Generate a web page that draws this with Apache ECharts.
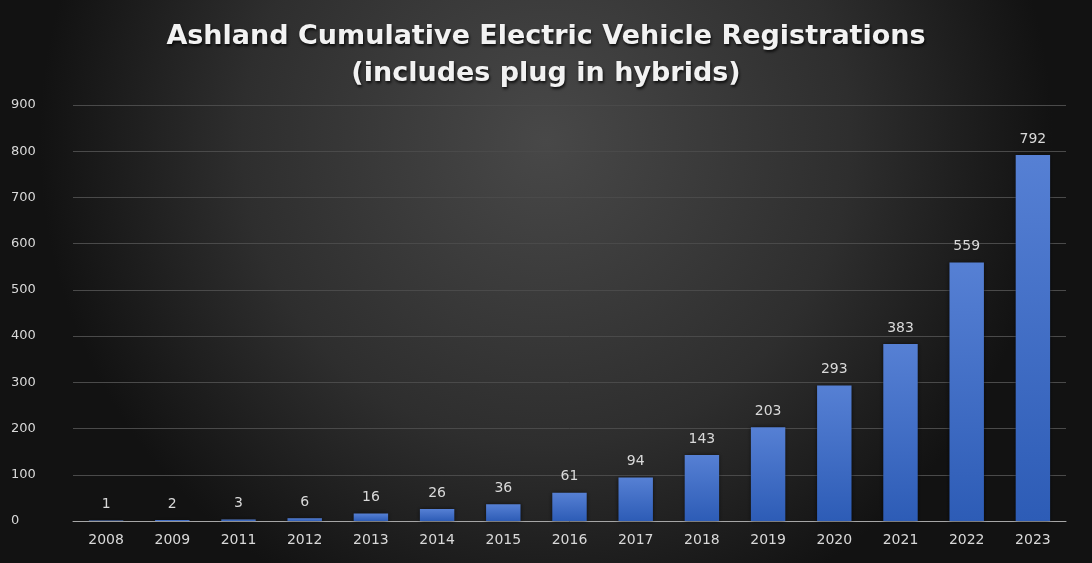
<!DOCTYPE html>
<html>
<head>
<meta charset="utf-8">
<script src="https://cdn.jsdelivr.net/npm/echarts@6/dist/echarts.min.js"></script>
<style>
  html, body { margin: 0; padding: 0; background: #1a1a1a; }
  #chart { width: 1092px; height: 563px; }
</style>
</head>
<body>
<div id="chart"></div>
<script>
// data
var years = ["2008","2009","2011","2012","2013","2014","2015","2016","2017","2018","2019","2020","2021","2022","2023"];
var registrations = [1, 2, 3, 6, 16, 26, 36, 61, 94, 143, 203, 293, 383, 559, 792];

var titleText = "Ashland Cumulative Electric Vehicle Registrations\n(includes plug in hybrids)";

var option = {
  backgroundColor: {
    type: "radial",
    x: 0.5, y: 0.25, r: 0.9,
    colorStops: [
      { offset: 0, color: "#484848" },
      { offset: 0.6, color: "#2e2e2e" },
      { offset: 1, color: "#121212" }
    ]
  },
  title: {
    text: titleText,
    left: "center",
    top: 13,
    textStyle: {
      color: "#f2f2f2",
      fontFamily: "DejaVu Sans",
      fontWeight: "bold",
      fontSize: 27,
      lineHeight: 37,
      textShadowColor: "rgba(0,0,0,0.8)",
      textShadowBlur: 3,
      textShadowOffsetX: 1,
      textShadowOffsetY: 2
    }
  },
  grid: {
    left: 73,
    right: 26,
    top: 105,
    bottom: 42
  },
  xAxis: {
    type: "category",
    data: years,
    axisLine: { lineStyle: { color: "#a6a6a6", width: 1 } },
    axisTick: { show: false },
    axisLabel: {
      color: "#d9d9d9",
      fontFamily: "DejaVu Sans",
      fontSize: 14,
      margin: 12
    }
  },
  yAxis: {
    type: "value",
    min: 0,
    max: 900,
    interval: 100,
    axisLine: { show: false },
    axisTick: { show: false },
    splitLine: { lineStyle: { color: "#4a4a4a", width: 1 } },
    axisLabel: {
      color: "#d9d9d9",
      fontFamily: "DejaVu Sans",
      fontSize: 13,
      align: "left",
      margin: 62
    }
  },
  series: [
    {
      name: "Registrations",
      type: "bar",
      barWidth: "52%",
      data: registrations,
      itemStyle: {
        color: {
          type: "linear",
          x: 0, y: 0, x2: 0, y2: 1,
          colorStops: [
            { offset: 0, color: "#5680d4" },
            { offset: 1, color: "#2d5cb6" }
          ]
        },
        shadowColor: "rgba(0,0,0,0.6)",
        shadowBlur: 4
      },
      label: {
        show: true,
        position: "top",
        distance: 9,
        color: "#d9d9d9",
        fontFamily: "DejaVu Sans",
        fontSize: 14
      }
    }
  ]
};

var dom = document.getElementById("chart");
var myChart = echarts.init(dom);
myChart.setOption(option);
</script>
</body>
</html>
